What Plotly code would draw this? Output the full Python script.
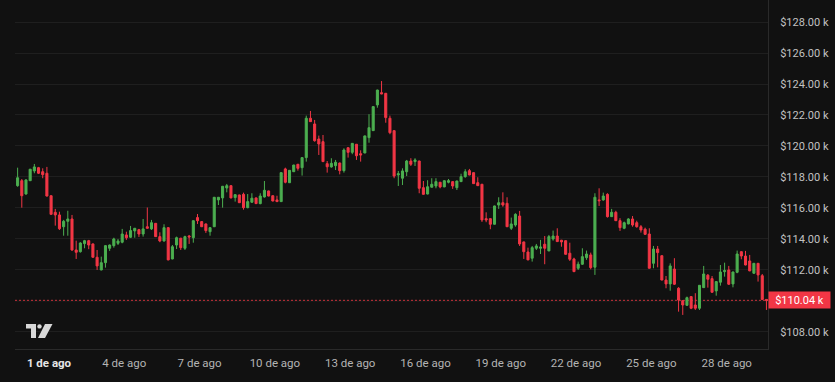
import pandas as pd
import plotly.graph_objects as go

# 4-hour candles, BTC price in thousands of USD
times = pd.date_range("2025-07-30 18:00", periods=180, freq="4h")

opens = [117.44,117.76,116.90,117.76,118.39,118.60,118.34,118.24,116.79,115.72,
         115.55,114.79,115.14,115.29,113.29,113.18,113.70,113.89,113.68,112.82,
         112.00,112.47,113.40,113.57,113.72,113.79,114.26,114.11,114.52,114.60,
         114.32,114.79,114.65,115.01,114.15,113.87,114.73,112.71,113.61,114.05,
         113.40,114.19,114.08,115.38,115.12,114.97,114.47,114.79,116.52,116.65,
         117.29,117.44,116.67,116.84,116.88,116.02,116.37,116.65,116.28,116.71,
         117.10,116.79,116.52,116.41,118.52,117.63,118.34,118.82,118.60,119.25,
         121.79,121.42,120.45,120.28,118.86,118.65,118.73,118.90,118.41,119.89,
         119.59,120.11,119.50,119.55,120.54,120.99,122.65,123.44,123.40,121.79,
         120.99,118.13,117.92,118.34,119.03,118.99,119.03,117.31,116.90,117.34,
         117.42,117.66,117.36,117.66,117.70,117.31,117.70,118.02,118.41,118.28,
         117.63,117.53,115.31,115.31,114.95,116.19,116.34,116.30,114.69,114.90,
         115.48,113.81,113.16,112.76,113.40,113.40,113.66,113.23,114.00,114.19,
         113.92,113.89,113.08,112.71,112.11,112.37,112.79,112.97,112.18,116.52,
         116.52,116.88,115.44,115.72,115.18,114.69,114.97,115.29,115.05,114.79,
         114.63,114.32,112.43,113.35,112.92,111.35,111.10,112.06,110.82,110.02,
         109.72,110.28,109.74,109.53,110.86,111.66,111.44,110.65,111.21,111.89,
         112.00,111.10,111.85,113.18,112.90,112.58,111.79,112.43,111.63,110.10]

closes = [117.95,116.79,117.81,118.50,118.65,118.24,118.15,116.77,115.59,115.55,
          114.66,115.14,115.29,113.29,113.14,113.74,113.89,113.61,112.82,112.26,
          112.47,113.57,113.61,114.00,113.87,114.32,114.08,114.54,114.69,114.32,
          114.65,114.69,115.05,114.15,113.87,114.73,112.65,113.50,114.08,113.44,
          114.15,114.13,115.18,115.18,114.79,114.54,114.73,116.69,116.69,117.40,
          117.44,116.65,116.86,116.34,116.02,116.41,116.63,116.28,116.77,117.14,
          116.77,116.45,116.41,118.28,117.66,118.43,118.77,118.56,119.25,121.79,
          121.57,120.34,120.13,118.99,118.66,118.88,118.95,118.41,119.74,119.59,
          120.17,119.37,119.42,120.65,121.18,122.54,123.61,123.36,121.83,120.86,
          118.06,118.21,118.39,119.03,118.82,119.10,117.27,116.88,117.37,117.53,
          117.70,117.36,117.76,117.76,117.42,117.74,118.02,118.34,118.13,117.57,
          117.44,115.23,115.23,114.95,116.13,116.34,116.19,114.79,114.97,115.59,
          113.68,113.18,112.65,113.44,113.55,113.48,113.40,114.15,114.19,113.83,
          113.81,113.01,112.69,111.89,112.37,112.86,113.03,112.15,116.69,116.47,
          116.77,115.44,115.72,115.18,114.73,115.05,115.29,114.90,114.79,114.58,
          114.30,112.11,113.35,113.12,111.35,111.10,112.26,111.08,110.06,109.74,
          110.21,109.53,109.53,111.01,111.74,111.40,110.56,111.25,111.87,111.96,
          111.08,111.87,113.03,112.90,112.32,111.94,112.43,111.68,110.10,110.04]

highs = [118.60,117.87,117.85,118.52,118.84,118.65,118.56,118.65,116.81,115.94,
         115.76,115.23,115.82,115.55,113.89,113.79,113.94,113.94,113.71,113.29,
         112.86,113.61,113.64,114.08,114.00,114.65,114.47,114.84,114.71,114.65,
         115.29,116.03,115.23,115.03,114.43,114.95,114.77,113.61,114.15,114.07,
         114.21,114.26,115.20,115.61,115.16,115.00,114.77,116.71,116.71,117.42,
         117.55,117.46,116.88,116.86,116.99,116.90,116.95,116.67,116.95,117.74,
         117.12,116.81,116.79,118.30,118.60,118.45,118.79,118.84,119.27,121.96,
         122.26,121.68,120.67,120.71,119.03,119.21,119.10,118.93,119.85,119.91,
         120.19,120.13,119.72,120.67,122.05,122.56,123.63,124.19,123.42,121.96,
         121.01,118.39,118.56,119.10,119.21,119.21,119.05,117.74,117.79,117.92,
         117.92,117.68,117.78,117.87,117.72,117.76,118.21,118.50,118.52,118.30,
         117.98,117.55,115.72,115.33,116.15,116.69,117.01,116.69,115.38,115.66,
         115.81,113.83,113.44,113.55,113.68,113.94,114.19,114.26,114.54,114.69,
         113.94,113.91,113.76,112.79,112.54,113.40,113.25,113.12,116.95,117.27,
         116.99,116.95,115.94,115.82,115.34,115.12,115.34,115.48,115.18,114.90,
         114.73,114.69,113.55,113.55,112.94,111.61,112.43,112.76,110.89,110.04,
         110.28,110.30,110.50,111.03,112.26,111.74,111.61,111.27,112.32,112.47,
         112.26,111.89,113.25,113.20,113.23,112.97,112.45,112.45,111.74,110.12]

lows = [117.37,116.02,116.86,117.74,118.24,118.19,117.92,116.74,115.58,114.86,
        114.58,114.21,114.21,113.23,112.71,113.12,113.40,113.34,112.80,112.00,
        111.98,112.15,113.23,113.44,113.61,113.72,113.94,114.06,114.08,114.13,
        114.15,114.67,114.58,114.13,113.79,113.83,112.62,112.69,113.35,113.29,
        113.29,113.68,113.76,114.97,114.77,114.39,114.21,114.77,116.19,116.02,
        117.01,116.62,116.41,116.32,115.89,115.98,116.34,116.26,116.24,116.67,
        116.75,116.43,116.39,116.39,117.59,117.61,118.32,118.41,118.09,118.99,
        121.55,120.28,119.42,118.97,118.28,118.60,118.45,118.17,118.28,119.25,
        119.47,119.10,118.99,119.53,120.21,120.97,122.47,123.34,121.50,120.76,
        117.92,117.42,117.48,118.06,118.71,118.71,116.95,116.86,116.88,117.32,
        117.27,117.27,117.34,117.59,117.23,117.16,117.68,117.95,118.11,117.55,
        117.42,115.10,115.08,114.63,114.93,115.94,116.08,114.77,114.58,114.79,
        113.55,112.71,112.63,112.54,113.29,113.03,112.37,113.21,113.89,113.81,
        113.50,112.99,112.58,111.87,112.00,112.32,112.65,112.04,111.68,116.13,
        116.47,115.38,115.42,115.16,114.52,114.63,114.95,114.79,114.73,114.41,
        114.26,112.09,112.11,112.17,111.33,110.82,110.66,111.03,109.31,109.10,
        109.68,109.47,109.42,109.42,110.84,110.86,110.54,110.34,110.99,111.57,
        111.03,110.88,111.79,112.69,112.30,111.92,111.74,111.25,110.08,109.42]

last_price = 110.04
last_price_label = "$110.04 k"

x_tick_dates = ["2025-08-01", "2025-08-04", "2025-08-07", "2025-08-10", "2025-08-13",
                "2025-08-16", "2025-08-19", "2025-08-22", "2025-08-25", "2025-08-28"]
x_tick_labels = ["1 de ago", "4 de ago", "7 de ago", "10 de ago", "13 de ago",
                 "16 de ago", "19 de ago", "22 de ago", "25 de ago", "28 de ago"]

# the $110.00 k label is hidden behind the last-price tag in the reference
y_tick_vals = [108, 112, 114, 116, 118, 120, 122, 124, 126, 128]
y_tick_labels = ["$108.00 k", "$112.00 k", "$114.00 k", "$116.00 k",
                 "$118.00 k", "$120.00 k", "$122.00 k", "$124.00 k", "$126.00 k", "$128.00 k"]
hidden_grid_val = 110

# ---- styling ----
BG = "#111111"
GRID = "#1f1f1f"
UP = "#4caf50"
DOWN = "#f23645"
W, H = 835, 382
L_M, R_M, T_M, B_M = 15, 67, 0, 33

x_text = []
for i, t in enumerate(x_tick_labels):
    if i == 0:
        x_text.append("<b><span style='color:#e6e6e6'>" + t + "</span></b>")
    else:
        x_text.append(t)

fig = go.Figure()
fig.add_trace(go.Candlestick(
    x=times, open=opens, high=highs, low=lows, close=closes,
    increasing=dict(line=dict(color=UP, width=1), fillcolor=UP),
    decreasing=dict(line=dict(color=DOWN, width=1), fillcolor=DOWN),
    whiskerwidth=0, hoverinfo="skip", showlegend=False,
))

# grid line hidden under the last price line
fig.add_shape(type="line", xref="paper", x0=0, x1=1, y0=hidden_grid_val, y1=hidden_grid_val,
              line=dict(color=GRID, width=1), layer="below")

# last price dotted line
fig.add_shape(type="line", xref="paper", x0=0, x1=1, y0=last_price, y1=last_price,
              line=dict(color="#c8323c", width=1, dash="2px,2px"), layer="below")

# last price label on axis
fig.add_annotation(xref="paper", x=1.0, y=last_price, text=last_price_label,
                   showarrow=False, xanchor="left", yanchor="middle",
                   bgcolor=DOWN, font=dict(color="#ffffff", size=11, family="Roboto"),
                   width=57, height=12, align="center",
                   borderpad=2, xshift=0)

# TradingView-like logo (drawn in pixel coords converted to paper)
pw = W - L_M - R_M
ph = H - T_M - B_M
def px(x):
    return (x - L_M) / pw
def py(y):
    return (H - B_M - y) / ph

logo_col = "#d8d8d8"
p1 = f"M{px(26)},{py(324)} L{px(36)},{py(324)} L{px(36)},{py(338)} L{px(31)},{py(338)} L{px(31)},{py(328.5)} L{px(26)},{py(328.5)} Z"
p2 = f"M{px(45)},{py(324)} L{px(52.5)},{py(324)} L{px(45)},{py(338)} L{px(38)},{py(338)} Z"
fig.add_shape(type="path", xref="paper", yref="paper", path=p1,
              fillcolor=logo_col, line=dict(width=0))
fig.add_shape(type="path", xref="paper", yref="paper", path=p2,
              fillcolor=logo_col, line=dict(width=0))
fig.add_shape(type="circle", xref="paper", yref="paper",
              x0=px(37.3), x1=px(41.7), y0=py(328.6), y1=py(324.2),
              fillcolor=logo_col, line=dict(width=0))

fig.update_layout(
    width=W, height=H,
    margin=dict(l=L_M, r=R_M, t=T_M, b=B_M),
    paper_bgcolor=BG, plot_bgcolor=BG,
    font=dict(family="Roboto", size=11, color="#b4b4b4"),
    showlegend=False,
    hovermode=False,
    xaxis=dict(
        type="date",
        range=[pd.Timestamp("2025-07-30 15:30"), pd.Timestamp("2025-08-29 15:30")],
        rangeslider=dict(visible=False),
        tickvals=pd.to_datetime(x_tick_dates), ticktext=x_text,
        showgrid=False, zeroline=False,
        showline=True, linecolor="#2a2a2a", linewidth=1,
        ticks="", ticklabelstandoff=3,
        tickfont=dict(size=11.5, color="#b4b4b4"),
        fixedrange=True,
    ),
    yaxis=dict(
        side="right",
        range=[106.90, 129.42],
        tickvals=y_tick_vals, ticktext=y_tick_labels,
        showgrid=True, gridcolor=GRID, gridwidth=1,
        zeroline=False,
        showline=True, linecolor="#2a2a2a", linewidth=1,
        ticks="", ticklabelstandoff=9,
        tickfont=dict(size=11, color="#c2c2c2"),
        fixedrange=True,
    ),
)

fig.write_html("out.html")
